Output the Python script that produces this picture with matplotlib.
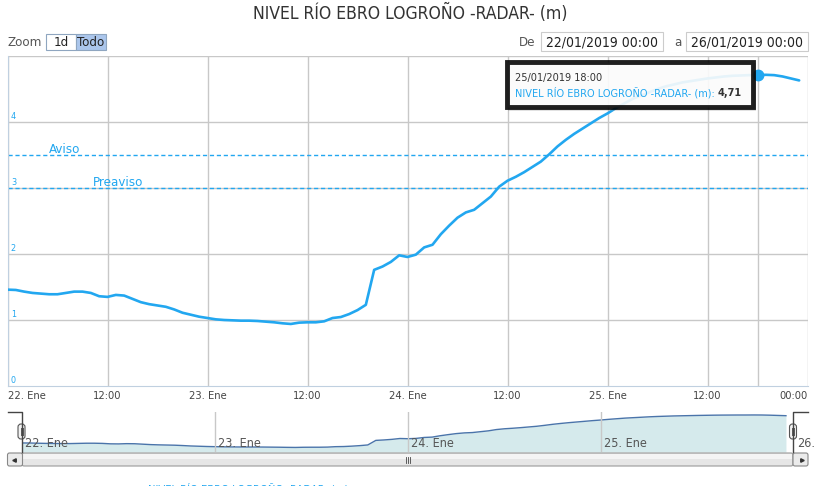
import matplotlib
matplotlib.use('Agg')
import matplotlib.pyplot as plt
from matplotlib import font_manager
from matplotlib.patches import Rectangle, FancyBboxPatch
import numpy as np

# hourly river level readings from 22/01/2019 00:00 (hours since start, metres)
hours = list(range(96))
level = [1.46, 1.455, 1.43, 1.41, 1.40, 1.39, 1.39, 1.41, 1.43, 1.43,
         1.41, 1.36, 1.35, 1.38, 1.37, 1.32, 1.27, 1.24, 1.22, 1.20,
         1.16, 1.11, 1.08, 1.05, 1.03, 1.01, 1.00, 0.995, 0.99, 0.99,
         0.985, 0.975, 0.965, 0.95, 0.94, 0.96, 0.965, 0.965, 0.98, 1.03,
         1.045, 1.09, 1.15, 1.23, 1.76, 1.81, 1.88, 1.98, 1.955, 1.99,
         2.10, 2.14, 2.30, 2.43, 2.55, 2.63, 2.67, 2.77, 2.87, 3.02,
         3.11, 3.17, 3.24, 3.32, 3.40, 3.51, 3.63, 3.73, 3.82, 3.90,
         3.98, 4.06, 4.13, 4.21, 4.28, 4.35, 4.40, 4.45, 4.50, 4.54,
         4.57, 4.60, 4.62, 4.64, 4.66, 4.675, 4.69, 4.70, 4.705, 4.71,
         4.71, 4.715, 4.71, 4.69, 4.66, 4.63]

thresholds = [3.5, 3.0]
threshold_names = ['Aviso', 'Preaviso']

xtick_hours = [0, 12, 24, 36, 48, 60, 72, 84, 96]
xtick_labels = ['22. Ene', '12:00', '23. Ene', '12:00', '24. Ene', '12:00',
                '25. Ene', '12:00', '00:00']
ytick_vals = [0, 1, 2, 3, 4]
nav_days = [0, 24, 48, 72, 96]
nav_labels = ['22. Ene', '23. Ene', '24. Ene', '25. Ene', '26.']

tip_hour = 90
tip_date = '25/01/2019 18:00'
series_name = 'NIVEL RÍO EBRO LOGROÑO -RADAR- (m)'

names = {f.name for f in font_manager.fontManager.ttflist}
FONT = 'Liberation Sans Narrow' if 'Liberation Sans Narrow' in names else 'DejaVu Sans'
plt.rcParams['font.family'] = [FONT, 'DejaVu Sans']
plt.rcParams['font.stretch'] = 'condensed'

BLUE = '#22a7f0'
GRID = '#c8c8c8'
W, H = 821, 486

fig = plt.figure(figsize=(W / 100, H / 100), dpi=100)


def box(l, t, r, b):
    return [l / W, 1 - b / H, (r - l) / W, (b - t) / H]


# main chart
ax = fig.add_axes(box(7.5, 56, 807.5, 386))
ax.set_xlim(0, 96)
ax.set_ylim(0, 5)
for h in xtick_hours + [tip_hour]:
    ax.axvline(h, color=GRID, lw=1, zorder=1)
for v in ytick_vals[1:] + [5]:
    ax.axhline(v, color=GRID, lw=1, zorder=1)
for v, name, xl in zip(thresholds, threshold_names, [5, 10.3]):
    ax.axhline(v, color=BLUE, lw=1, ls=(0, (3, 2)), zorder=2)
    ax.text(xl, v + 0.03, name, color=BLUE, fontsize=9.5, va='baseline')
ax.plot(hours, level, color=BLUE, lw=1.9, zorder=3, solid_capstyle='round')
ax.plot([tip_hour], [level[tip_hour]], 'o', color=BLUE, ms=7.5, zorder=6)
for v in ytick_vals:
    ax.text(0.4, v + 0.05, str(v), color=BLUE, fontsize=6.5, va='baseline')
for s in ax.spines.values():
    s.set_visible(False)
ax.spines['left'].set_visible(True)
ax.spines['left'].set_color('#c0d0e0')
ax.spines['bottom'].set_visible(True)
ax.spines['bottom'].set_color('#c0d0e0')
ax.set_xticks([])
ax.set_yticks([])
for h, lab in zip(xtick_hours, xtick_labels):
    ha = 'left' if h == 0 else ('right' if h == 96 else 'center')
    ax.text(h, -0.15, lab, ha=ha, va='center', fontsize=8, color='#444444',
            clip_on=False)

# navigator
nav = fig.add_axes(box(22, 412, 794, 452))
nav.set_xlim(0, 96)
nav.set_ylim(0.41, 5.06)
nav.fill_between(hours, level, 0.41, color='#d5eaec', lw=0)
nav.plot(hours, level, color='#4a74aa', lw=1)
for d, lab in zip(nav_days, nav_labels):
    if 0 < d < 96:
        nav.axvline(d, color=GRID, lw=1)
    nav.text(d + 0.4, 1.35, lab, fontsize=9, color='#555555', va='center',
             clip_on=False)
nav.axis('off')

# overlay in pixel coordinates for the interface pieces
ov = fig.add_axes([0, 0, 1, 1], zorder=10)
ov.set_xlim(0, W)
ov.set_ylim(H, 0)
ov.axis('off')

ov.text(410, 13, series_name, ha='center', va='center', fontsize=12.6,
        color='#333333')
ov.text(8, 42, 'Zoom', va='center', fontsize=9.5, color='#555555')
ov.add_patch(Rectangle((46, 34), 30, 16, fc='white', ec='#8fa6c0', lw=0.8))
ov.add_patch(Rectangle((76, 34), 30, 16, fc='#abc6ec', ec='#8fa6c0', lw=0.8))
ov.text(61, 42, '1d', ha='center', va='center', fontsize=9.5, color='#222222')
ov.text(91, 42, 'Todo', ha='center', va='center', fontsize=9.5, color='#222222')
ov.text(527, 42, 'De', ha='center', va='center', fontsize=9.5, color='#555555')
ov.text(678, 42, 'a', ha='center', va='center', fontsize=9.5, color='#555555')
for l, r, txt in [(541, 663, '22/01/2019 00:00'), (686, 808, '26/01/2019 00:00')]:
    ov.add_patch(Rectangle((l, 32), r - l, 19, fc='white', ec='#cccccc', lw=0.8))
    ov.text((l + r) / 2, 42, txt, ha='center', va='center', fontsize=10,
            color='#222222')

# tooltip
ov.add_patch(Rectangle((508, 63), 248, 48, fc='#888888', alpha=0.25, lw=0))
ov.add_patch(Rectangle((507, 62), 246, 45, fc='white', alpha=0.88,
                       ec='black', lw=3.5))
ov.text(515, 78, tip_date, va='center', fontsize=7.8, color='#333333')
t1 = ov.text(515, 93, series_name + ': ', va='center', fontsize=7.8,
             color=BLUE)
fig.canvas.draw()
bb = t1.get_window_extent()
ov.text(bb.x1, H - 93, f'{level[tip_hour]:.2f}'.replace('.', ','),
        transform=None, va='center', fontsize=7.8, color='#333333',
        fontweight='bold')

# navigator outline and handles
ov.plot([8, 22, 22], [412, 412, 452], color='#444444', lw=1)
ov.plot([808, 793, 793], [412, 412, 452], color='#444444', lw=1)
for hx in [21.5, 793]:
    ov.add_patch(FancyBboxPatch((hx - 3.5, 424), 7, 15,
                                boxstyle='round,pad=0,rounding_size=3',
                                fc='#f2f2f2', ec='#555555', lw=0.8))
    ov.plot([hx - 1, hx - 1], [428, 435], color='#555555', lw=0.7)
    ov.plot([hx + 1, hx + 1], [428, 435], color='#555555', lw=0.7)

# scrollbar
ov.add_patch(FancyBboxPatch((22, 453), 771, 13,
                            boxstyle='round,pad=0,rounding_size=2',
                            fc='#e6e6e6', ec='#999999', lw=0.8))
ov.add_patch(Rectangle((23, 453.5), 769, 5, fc='#f4f4f4', lw=0))
for l in [7.5, 793]:
    ov.add_patch(FancyBboxPatch((l, 453), 15, 13,
                                boxstyle='round,pad=0,rounding_size=2',
                                fc='#ebebeb', ec='#888888', lw=0.8))
ov.plot([13.5], [459.5], marker='<', color='#333333', ms=2.5)
ov.plot([801.5], [459.5], marker='>', color='#333333', ms=2.5)
for gx in [405.5, 407.5, 409.5]:
    ov.plot([gx, gx], [456.5, 462.5], color='#444444', lw=0.6)

# legend item, cut off at the bottom edge as in the source page
ov.text(148, 483, series_name, va='top', fontsize=8, color=BLUE, clip_on=False)

fig.savefig('out.png', dpi=100)
